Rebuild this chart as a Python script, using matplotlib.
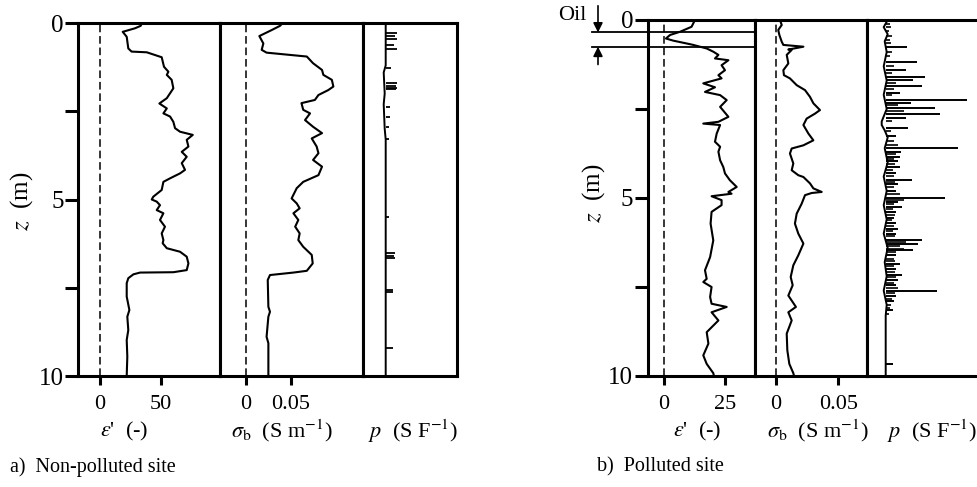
import numpy as np
import matplotlib
matplotlib.use('Agg')
import matplotlib.pyplot as plt
from matplotlib import transforms

plt.rcParams['font.family'] = 'Liberation Serif'
plt.rcParams['mathtext.fontset'] = 'stix'

# ---- a) non-polluted site ----
z_eps_a = [0.00, 0.08, 0.15, 0.25, 0.39, 0.72, 0.81, 0.83, 0.97, 1.24, 1.38, 1.47, 1.61, 1.85,
           2.13, 2.28, 2.42, 2.56, 2.65, 2.80, 2.98, 3.08, 3.17, 3.31, 3.50, 3.65, 3.79, 3.97,
           4.16, 4.26, 4.40, 4.50, 4.73, 4.92, 5.00, 5.06, 5.16, 5.30, 5.39, 5.58, 5.77, 5.96,
           6.15, 6.24, 6.38, 6.48, 6.62, 6.81, 7.00, 7.06, 7.07, 7.12, 7.23, 7.37, 7.75, 8.13,
           8.32, 8.70, 8.98, 9.45, 10.0]
eps_a = [34.5, 33.5, 28.8, 18.7, 22.0, 23.3, 26.0, 38.5, 50.8, 52.7, 56.3, 55.0, 59.0, 60.4,
         55.0, 48.9, 55.0, 52.2, 57.7, 60.4, 61.8, 65.9, 76.4, 71.4, 72.8, 67.3, 71.4, 67.3,
         70.0, 65.9, 57.7, 52.2, 50.8, 43.9, 42.6, 46.7, 49.4, 46.7, 52.2, 49.4, 53.5, 50.8,
         52.2, 51.6, 55.0, 65.9, 71.4, 72.8, 71.4, 60.4, 33.0, 27.5, 23.3, 22.0, 22.0, 24.2,
         22.5, 23.3, 22.0, 22.5, 22.0]

z_sig_a = [0.00, 0.08, 0.20, 0.37, 0.58, 0.76, 0.84, 0.95, 1.14, 1.33, 1.47, 1.61, 1.80, 1.90,
           2.04, 2.18, 2.27, 2.46, 2.56, 2.75, 2.94, 3.12, 3.27, 3.50, 3.69, 3.88, 4.07, 4.31,
           4.50, 4.68, 4.97, 5.11, 5.25, 5.39, 5.58, 5.77, 5.96, 6.15, 6.34, 6.57, 6.81, 7.02,
           7.07, 7.14, 7.28, 8.04, 8.18, 8.32, 8.89, 9.07, 10.0]
sig_a = [0.041, 0.038, 0.0287, 0.0149, 0.0194, 0.0175, 0.023, 0.068, 0.075, 0.085, 0.0865,
         0.096, 0.0977, 0.092, 0.081, 0.077, 0.062, 0.064, 0.0716, 0.066, 0.075, 0.085, 0.0735,
         0.079, 0.081, 0.075, 0.085, 0.081, 0.064, 0.0567, 0.051, 0.0567, 0.060, 0.053, 0.0585,
         0.055, 0.060, 0.0585, 0.064, 0.0735, 0.0746, 0.068, 0.053, 0.0268, 0.0243, 0.025,
         0.0268, 0.025, 0.023, 0.025, 0.025]

# p trace (arbitrary units): baseline + spikes
z_pbase_a = [0.0, 1.2, 1.4, 2.0, 2.3, 3.0, 3.3, 10.0]
p_base_a = [0, 0, -2, -1, -2, -1, 0, 0]
z_spk_a = [0.29, 0.37, 0.46, 0.62, 0.75, 1.28, 1.71, 1.78, 1.84, 1.88, 2.37, 2.65, 2.94, 3.30,
           5.49, 6.52, 6.60, 6.67, 7.56, 7.62, 9.22]
p_spk_a = [11, 9, 11, 8, 11, 5, 11, 10, 11, 10, 4, 4, 3, 3, 3, 9, 8, 9, 7, 7, 7]

# ---- b) polluted site ----
z_eps_b = [0.00, 0.19, 0.33, 0.42, 0.52, 0.58, 0.68, 0.70, 0.80, 0.89, 0.98, 1.08, 1.13, 1.27,
           1.41, 1.55, 1.64, 1.78, 1.89, 2.02, 2.11, 2.25, 2.44, 2.72, 2.86, 2.91, 2.95, 3.19,
           3.42, 3.56, 3.70, 3.94, 4.13, 4.31, 4.50, 4.69, 4.83, 4.88, 4.95, 5.06, 5.20, 5.39,
           5.72, 6.19, 6.66, 7.03, 7.27, 7.36, 7.50, 7.78, 7.97, 8.06, 8.21, 8.44, 8.77, 9.09,
           9.42, 9.66, 9.92, 10.0]
eps_b = [12.7, 11.3, 6.6, 2.5, 0.8, 3.8, 10.7, 12.0, 17.5, 20.2, 22.3, 20.9, 26.4, 23.6,
         25.0, 22.3, 23.6, 16.1, 20.9, 16.8, 23.0, 25.7, 23.0, 26.4, 22.3, 16.1, 23.0, 21.6,
         20.9, 23.0, 22.3, 23.0, 24.3, 25.0, 27.0, 29.8, 26.4, 27.7, 19.5, 23.6, 23.6, 19.5,
         19.1, 20.2, 18.9, 16.8, 17.5, 16.1, 19.5, 18.9, 19.5, 25.7, 19.5, 22.3, 17.5, 18.2,
         16.1, 17.5, 20.2, 20.5]

z_sig_b = [0.00, 0.14, 0.28, 0.42, 0.61, 0.70, 0.75, 0.83, 0.84, 0.98, 1.22, 1.41, 1.55, 1.64,
           1.83, 1.97, 2.16, 2.34, 2.53, 2.63, 2.77, 2.95, 3.19, 3.38, 3.52, 3.61, 3.75, 4.03,
           4.22, 4.36, 4.41, 4.59, 4.73, 4.83, 4.86, 4.92, 5.16, 5.44, 5.72, 6.00, 6.28, 6.61,
           6.89, 7.22, 7.45, 7.74, 8.06, 8.21, 8.44, 8.81, 9.28, 9.66, 9.92, 10.0]
sig_b = [0.0032, 0.0046, 0.0018, 0.0027, 0.0046, 0.0059, 0.022, 0.0099, 0.0126, 0.0086,
         0.0099, 0.0059, 0.0064, 0.0112, 0.0166, 0.0233, 0.0273, 0.030, 0.0353, 0.0313,
         0.0246, 0.022, 0.026, 0.030, 0.022, 0.0126, 0.0112, 0.0139, 0.0126, 0.0179, 0.022,
         0.0273, 0.030, 0.0367, 0.0286, 0.0233, 0.0206, 0.0166, 0.0152, 0.0179, 0.022, 0.0179,
         0.0139, 0.0118, 0.0134, 0.0099, 0.016, 0.0099, 0.0126, 0.0086, 0.0091, 0.0107,
         0.0139, 0.0145]

z_pbase_b = [0.0, 0.2, 0.4, 0.6, 0.9, 1.3, 1.7, 2.1, 2.5, 2.85, 2.95, 3.1, 3.3, 3.6, 4.0, 4.4,
             4.8, 5.2, 5.6, 6.0, 6.4, 6.8, 7.2, 7.6, 8.0, 8.3, 10.0]
p_base_b = [2, -2, 2, -1, 1, -2, 1, -2, 1, -4, -4, -1, 2, -1, 2, -2, 1, -2, 1, -2, 2, -1, 1,
            -2, 1, 0, 0]
# main spikes
z_spk_b = [0.75, 1.17, 1.40, 1.59, 1.69, 1.86, 2.04, 2.25, 2.33, 2.48, 2.64, 2.75, 3.02, 3.25,
           3.59, 3.70, 3.84, 3.95, 4.13, 4.30, 4.50, 4.62, 4.80, 4.99, 5.10, 5.25, 5.40, 5.55,
           5.70, 5.86, 6.00, 6.17, 6.28, 6.47, 6.60, 6.84, 7.00, 7.17, 7.30, 7.45, 7.60, 7.75,
           7.90, 8.16, 9.66]
p_spk_b = [21, 31.6, 20, 39.3, 27.3, 36, 14.3, 81, 25, 49.3, 54.3, 20, 22.6, 10,
           72.6, 15, 14.3, 12, 14.3, 10, 26, 12, 10, 59.3, 12, 16, 10, 8,
           10, 12.3, 10, 36, 32.3, 27, 10, 14.3, 10, 16, 12, 10, 51, 10,
           8, 7.6, 7.6]
# small teeth between the spikes
z_tooth_b = [0.10, 0.20, 0.30, 0.45, 0.55, 0.65, 0.90, 1.00, 1.30, 1.50, 1.77, 1.95, 2.12,
             2.40, 2.56, 2.85, 3.12, 3.40, 3.50, 3.77, 3.90, 4.05, 4.20, 4.38, 4.56, 4.70,
             4.88, 5.05, 5.18, 5.32, 5.48, 5.62, 5.78, 5.93, 6.08, 6.23, 6.35, 6.42, 6.53,
             6.70, 6.77, 6.92, 7.07, 7.23, 7.38, 7.52, 7.68, 7.83, 8.00, 8.10, 8.25]
p_tooth_b = [4, 5, 3, 6, 4, 5, 6, 4, 8, 6, 10, 8, 6, 12, 18, 6, 5, 8, 12, 10, 8, 9, 7, 8,
             9, 8, 14, 18, 8, 7, 9, 6, 8, 7, 9, 20, 14, 18, 10, 8, 9, 8, 9, 10, 8, 12, 9, 6,
             5, 4, 3]

oil_top, oil_bottom = 0.35, 0.75

W, H = 977, 487
fig = plt.figure(figsize=(W / 100, H / 100), dpi=100)


def box(x0, x1, y0, y1):
    return fig.add_axes([x0 / W, 1 - y1 / H, (x1 - x0) / W, (y1 - y0) / H])


def make_panel(xs, y0, y1, eps_lim, sig_lim, p_lim, eps_ticks, eps_labels):
    axs = [box(xs[i], xs[i + 1], y0, y1) for i in range(3)]
    for ax in axs:
        ax.set_ylim(10, 0)
        for s in ax.spines.values():
            s.set_linewidth(2.2)
        ax.tick_params(left=False, labelleft=False, bottom=False, labelbottom=False)
    ax_e, ax_s, ax_p = axs
    ax_e.set_xlim(*eps_lim)
    ax_s.set_xlim(*sig_lim)
    ax_p.set_xlim(*p_lim)

    ax_e.set_yticks([0, 5, 10], labels=['0', '5', '10'])
    ax_e.set_yticks([2.5, 7.5], minor=True)
    ax_e.tick_params(axis='y', which='both', left=True, labelleft=True, direction='out',
                     length=9.4, width=2.2, pad=1, labelsize=18)
    ax_e.set_xticks(eps_ticks, labels=eps_labels)
    ax_s.set_xticks([0, 0.05], labels=['0', '0.05'])
    for ax in (ax_e, ax_s):
        ax.tick_params(axis='x', bottom=True, labelbottom=True, direction='out',
                       length=6.5, width=2.2, pad=7, labelsize=16)
        ax.axvline(0, color='k', lw=1.1, ls=(0, (5, 2.5)))
    return axs


# left panel
ea, sa, pa = make_panel([78, 220, 362.7, 456.7], 23, 376, (-18.1, 98.8), (-0.0291, 0.1305),
                        (-23, 71), [0, 50], ['0', '50'])
ea.plot(eps_a, z_eps_a, color='k', lw=1.5)
sa.plot(sig_a, z_sig_a, color='k', lw=1.5)
pa.plot(p_base_a, z_pbase_a, color='k', lw=1.4)
pa.hlines(z_spk_a, 0, p_spk_a, color='k', lw=1.3)

# right panel
eb, sb, pb = make_panel([647.7, 755, 866.7, 977], 20, 376, (-6.68, 37.3), (-0.01685, 0.0728),
                        (-19, 91.3), [0, 25], ['0', '25'])
pb.spines['right'].set_visible(False)
eb.plot(eps_b, z_eps_b, color='k', lw=1.5)
sb.plot(sig_b, z_sig_b, color='k', lw=1.5)
pb.plot(p_base_b, z_pbase_b, color='k', lw=1.4)
pb.hlines(z_spk_b, 0, p_spk_b, color='k', lw=1.4)
pb.hlines(z_tooth_b, 0, p_tooth_b, color='k', lw=1.2)

# oil layer marks
tr = transforms.blended_transform_factory(fig.transFigure, eb.transData)
for zo in (oil_top, oil_bottom):
    eb.plot([592 / W, 808 / W], [zo, zo], color='k', lw=1.3, transform=tr, clip_on=False)
ax_x = 598 / W
eb.annotate('', xy=(ax_x, oil_top), xycoords=tr, xytext=(ax_x, -0.4), textcoords=tr,
            arrowprops=dict(arrowstyle='-|>', color='k', lw=1.2, mutation_scale=14,
                            shrinkA=0, shrinkB=0))
eb.annotate('', xy=(ax_x, oil_bottom), xycoords=tr, xytext=(ax_x, 1.25), textcoords=tr,
            arrowprops=dict(arrowstyle='-|>', color='k', lw=1.2, mutation_scale=14,
                            shrinkA=0, shrinkB=0))
fig.text(572 / W, 1 - 16 / H, 'Oil', fontsize=16, ha='center', va='center')


def ftext(x, y, s, **kw):
    fig.text(x / W, 1 - y / H, s, **kw)


eps_lbl = r"$\varepsilon$'  (-)"
sig_lbl = r"$\sigma_{\mathrm{b}}$  (S m$^{-1}$)"
p_lbl = r"$p$  (S F$^{-1}$)"
for x, s in [(124, eps_lbl), (282, sig_lbl), (413, p_lbl),
             (697, eps_lbl), (818, sig_lbl), (932, p_lbl)]:
    ftext(x, 431, s, fontsize=16, ha='center', va='center')

ftext(22, 201, r"$z$  (m)", fontsize=18, rotation=90, ha='center', va='center')
ftext(594, 193, r"$z$  (m)", fontsize=18, rotation=90, ha='center', va='center')

ftext(10, 467, 'a)  Non-polluted site', fontsize=14.5, ha='left', va='center')
ftext(597, 467, 'b)  Polluted site', fontsize=14.5, ha='left', va='center')

fig.savefig('out.png', dpi=100)
